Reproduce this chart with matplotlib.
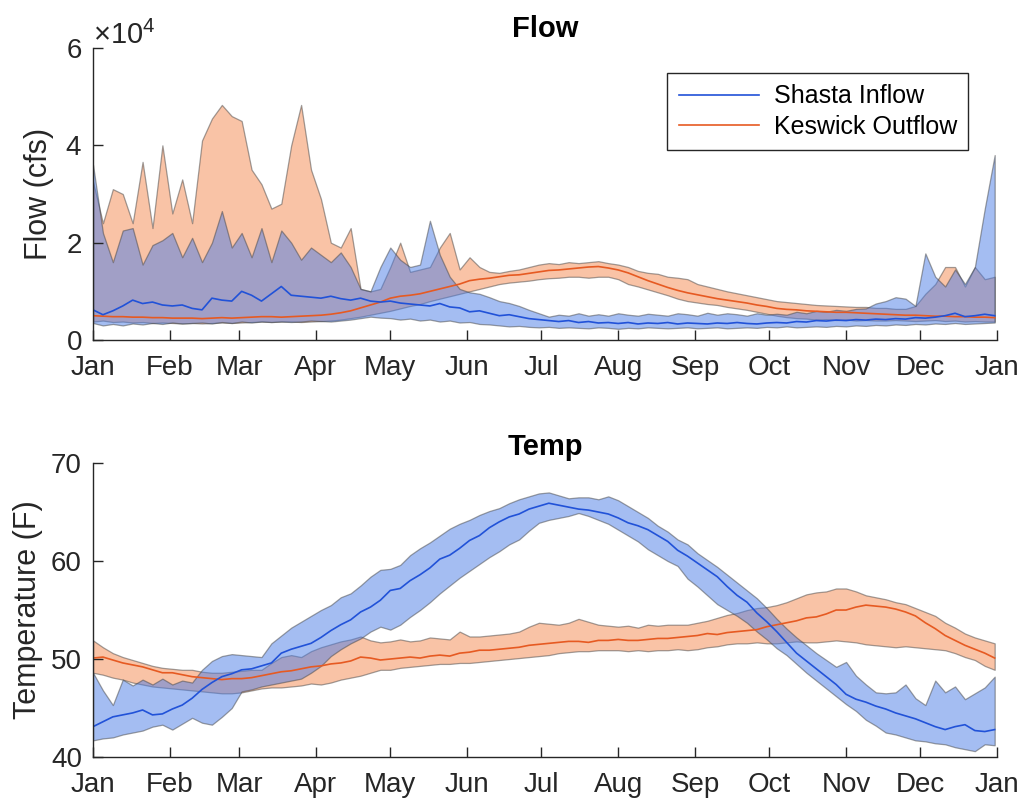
import matplotlib
matplotlib.use("Agg")
import matplotlib.pyplot as plt
import numpy as np

plt.rcParams["font.family"] = ["Liberation Sans", "DejaVu Sans"]
plt.rcParams["mathtext.fontset"] = "custom"
plt.rcParams["mathtext.rm"] = "Liberation Sans"

# ── axis labels ─────────────────────────────────────────
MONTH_STARTS = [0, 31, 59, 90, 120, 151, 181, 212, 243, 273, 304, 334, 365]
MONTH_LABELS = ["Jan", "Feb", "Mar", "Apr", "May", "Jun",
                "Jul", "Aug", "Sep", "Oct", "Nov", "Dec", "Jan"]

# sample days (every 4th day of the year)
DAYS = np.arange(0, 365, 4)

# ── Flow (units of 1e4 cfs) ─────────────────────────────
inflow_mid = [0.62, 0.52, 0.60, 0.70, 0.82, 0.75, 0.78, 0.72, 0.70, 0.72,
              0.65, 0.62, 0.86, 0.82, 0.80, 1.00, 0.92, 0.80, 0.95, 1.10,
              0.92, 0.90, 0.88, 0.86, 0.90, 0.85, 0.82, 0.86, 0.80, 0.78,
              0.80, 0.76, 0.74, 0.72, 0.70, 0.75, 0.68, 0.66, 0.58, 0.60,
              0.55, 0.50, 0.52, 0.48, 0.44, 0.42, 0.40, 0.38, 0.40, 0.36,
              0.38, 0.35, 0.36, 0.34, 0.36, 0.33, 0.35, 0.34, 0.36, 0.33,
              0.35, 0.34, 0.33, 0.35, 0.34, 0.36, 0.34, 0.33, 0.35, 0.36,
              0.35, 0.38, 0.37, 0.40, 0.39, 0.41, 0.40, 0.42, 0.41, 0.43,
              0.42, 0.44, 0.43, 0.46, 0.45, 0.47, 0.50, 0.55, 0.48, 0.50,
              0.53, 0.50]
inflow_hi = [3.60, 2.20, 1.60, 2.25, 2.30, 1.55, 1.95, 2.05, 2.20, 1.70,
             2.10, 1.60, 2.00, 2.65, 1.90, 2.20, 1.70, 2.30, 1.60, 2.25,
             2.00, 1.65, 1.90, 1.75, 1.60, 1.80, 1.50, 1.05, 1.00, 1.50,
             1.90, 1.65, 1.50, 1.55, 2.45, 1.75, 1.30, 1.05, 0.98, 0.95,
             0.88, 0.80, 0.76, 0.70, 0.62, 0.55, 0.48, 0.52, 0.50, 0.55,
             0.50, 0.53, 0.50, 0.55, 0.52, 0.50, 0.54, 0.52, 0.50, 0.55,
             0.53, 0.50, 0.56, 0.52, 0.55, 0.53, 0.50, 0.55, 0.52, 0.54,
             0.52, 0.58, 0.55, 0.60, 0.58, 0.62, 0.60, 0.64, 0.65, 0.75,
             0.80, 0.88, 0.85, 0.70, 1.78, 1.30, 1.10, 1.45, 1.15, 1.50,
             2.70, 3.80]
inflow_lo = [0.35, 0.30, 0.33, 0.30, 0.34, 0.32, 0.35, 0.33, 0.36, 0.34,
             0.35, 0.36, 0.34, 0.37, 0.35, 0.38, 0.36, 0.38, 0.37, 0.38,
             0.37, 0.38, 0.40, 0.39, 0.38, 0.40, 0.42, 0.45, 0.48, 0.46,
             0.45, 0.42, 0.44, 0.40, 0.42, 0.38, 0.40, 0.36, 0.37, 0.33,
             0.32, 0.30, 0.28, 0.29, 0.27, 0.26, 0.27, 0.25, 0.26, 0.25,
             0.24, 0.26, 0.25, 0.23, 0.25, 0.24, 0.26, 0.25, 0.24, 0.25,
             0.26, 0.24, 0.25, 0.26, 0.24, 0.25, 0.26, 0.25, 0.27, 0.26,
             0.28, 0.26, 0.27, 0.28, 0.27, 0.29, 0.28, 0.30, 0.29, 0.31,
             0.30, 0.32, 0.31, 0.33, 0.32, 0.34, 0.33, 0.35, 0.33, 0.34,
             0.35, 0.36]

outflow_mid = [0.50, 0.49, 0.48, 0.48, 0.47, 0.47, 0.46, 0.46, 0.45, 0.45,
               0.45, 0.44, 0.45, 0.46, 0.45, 0.46, 0.47, 0.48, 0.48, 0.47,
               0.48, 0.49, 0.50, 0.51, 0.53, 0.56, 0.60, 0.66, 0.72, 0.78,
               0.86, 0.90, 0.92, 0.95, 1.00, 1.05, 1.10, 1.15, 1.22, 1.25,
               1.27, 1.30, 1.33, 1.34, 1.37, 1.40, 1.43, 1.44, 1.46, 1.48,
               1.50, 1.51, 1.48, 1.44, 1.38, 1.30, 1.22, 1.15, 1.08, 1.02,
               0.97, 0.93, 0.89, 0.85, 0.82, 0.79, 0.76, 0.72, 0.69, 0.65,
               0.63, 0.62, 0.60, 0.59, 0.58, 0.57, 0.57, 0.56, 0.55, 0.54,
               0.53, 0.52, 0.51, 0.51, 0.50, 0.49, 0.49, 0.48, 0.48, 0.47,
               0.47, 0.46]
outflow_hi = [3.25, 2.40, 3.10, 3.00, 2.40, 3.66, 2.30, 4.00, 2.60, 3.30,
              2.40, 4.10, 4.55, 4.83, 4.60, 4.50, 3.50, 3.20, 2.70, 2.80,
              4.00, 4.83, 3.50, 2.90, 2.00, 1.90, 2.30, 1.05, 1.00, 1.05,
              1.50, 2.00, 1.40, 1.45, 1.50, 1.90, 2.20, 1.45, 1.70, 1.50,
              1.40, 1.38, 1.42, 1.45, 1.50, 1.55, 1.58, 1.56, 1.60, 1.58,
              1.60, 1.62, 1.58, 1.55, 1.50, 1.42, 1.38, 1.36, 1.30, 1.28,
              1.25, 1.15, 1.10, 1.05, 1.00, 0.96, 0.92, 0.88, 0.84, 0.80,
              0.78, 0.76, 0.74, 0.72, 0.71, 0.70, 0.69, 0.68, 0.68, 0.66,
              0.66, 0.64, 0.64, 0.70, 0.95, 1.15, 1.50, 1.50, 1.10, 1.50,
              1.25, 1.30]
outflow_lo = [0.38, 0.40, 0.37, 0.38, 0.36, 0.37, 0.35, 0.36, 0.35, 0.34,
              0.35, 0.34, 0.35, 0.36, 0.35, 0.36, 0.37, 0.38, 0.37, 0.38,
              0.38, 0.37, 0.38, 0.39, 0.40, 0.42, 0.45, 0.48, 0.52, 0.56,
              0.60, 0.65, 0.70, 0.74, 0.80, 0.85, 0.90, 0.95, 1.00, 1.05,
              1.10, 1.15, 1.18, 1.20, 1.22, 1.25, 1.27, 1.28, 1.30, 1.30,
              1.28, 1.30, 1.30, 1.25, 1.15, 1.10, 1.04, 0.98, 0.92, 0.85,
              0.80, 0.77, 0.74, 0.72, 0.68, 0.65, 0.62, 0.58, 0.54, 0.50,
              0.47, 0.45, 0.44, 0.42, 0.43, 0.41, 0.42, 0.40, 0.41, 0.40,
              0.40, 0.41, 0.40, 0.39, 0.40, 0.41, 0.39, 0.40, 0.38, 0.39,
              0.38, 0.38]

# ── Temperature (F) ─────────────────────────────────────
tin_mid = [43.1, 43.6, 44.1, 44.3, 44.5, 44.8, 44.3, 44.4, 44.9, 45.3,
           46.0, 46.9, 47.6, 48.2, 48.5, 48.9, 49.0, 49.3, 49.6, 50.6,
           51.0, 51.3, 51.6, 52.2, 52.9, 53.5, 54.0, 54.8, 55.3, 56.0,
           57.0, 57.2, 58.0, 58.6, 59.3, 60.2, 60.6, 61.3, 62.1, 62.6,
           63.4, 64.0, 64.5, 64.8, 65.3, 65.6, 65.9, 65.7, 65.5, 65.3,
           65.2, 65.0, 64.8, 64.4, 63.9, 63.6, 63.2, 62.6, 62.0, 61.1,
           60.5, 59.8, 59.1, 58.4, 57.4, 56.5, 55.8, 54.7, 53.8, 52.8,
           51.7, 50.6, 49.8, 49.0, 48.2, 47.4, 46.4, 45.9, 45.6, 45.2,
           44.9, 44.5, 44.2, 43.9, 43.5, 43.1, 42.8, 43.1, 43.3, 42.7,
           42.6, 42.8]
tin_hi = [48.6, 46.8, 45.3, 47.9, 47.3, 47.9, 47.4, 48.0, 47.4, 47.8,
          47.6, 48.9, 49.8, 50.3, 50.5, 50.4, 50.3, 50.2, 51.6, 52.4,
          53.2, 53.8, 54.4, 55.0, 55.5, 56.3, 56.7, 57.5, 58.4, 59.1,
          59.2, 59.6, 60.6, 61.3, 61.9, 62.6, 63.3, 63.8, 64.2, 64.7,
          65.1, 65.4, 65.9, 66.3, 66.6, 66.9, 67.0, 66.7, 66.4, 66.5,
          66.5, 66.3, 66.6, 66.2, 65.6, 65.0, 64.4, 63.6, 63.0, 62.2,
          61.7, 60.8, 60.1, 59.4, 58.6, 57.8, 57.0, 56.2, 55.2, 54.1,
          53.1, 52.2, 51.4, 50.6, 49.9, 49.2, 49.7, 48.3, 47.4, 46.6,
          46.5, 46.6, 47.4, 46.0, 45.3, 47.8, 46.6, 47.2, 45.9, 46.5,
          47.1, 48.2]
tin_lo = [41.7, 41.9, 42.0, 42.3, 42.5, 42.7, 43.1, 43.3, 42.8, 43.4,
          44.0, 43.5, 43.3, 44.1, 45.0, 46.7, 46.9, 47.2, 47.4, 47.6,
          47.8, 48.0, 48.6, 49.3, 50.3, 51.0, 51.6, 52.1, 52.8, 53.3,
          53.0, 53.5, 54.3, 55.0, 55.8, 56.7, 57.5, 58.3, 59.0, 59.7,
          60.4, 61.0, 61.7, 62.2, 63.1, 63.9, 64.2, 64.4, 64.6, 64.9,
          64.6, 64.2, 63.8, 63.2, 62.6, 62.0, 61.2, 60.6, 60.0, 59.5,
          58.2, 57.4, 56.5, 55.6, 55.0, 54.4, 53.7, 52.8, 52.0, 51.1,
          50.4, 49.5, 48.6, 47.8, 47.0, 46.2, 45.4, 44.7, 43.8, 43.2,
          42.5, 42.3, 42.0, 41.7, 41.6, 41.4, 41.3, 41.0, 40.8, 40.6,
          41.3, 41.2]

tout_mid = [50.1, 50.2, 49.9, 49.6, 49.4, 49.2, 48.9, 48.6, 48.6, 48.4,
            48.2, 48.1, 48.0, 47.9, 48.0, 48.0, 48.1, 48.3, 48.5, 48.7,
            48.8, 49.0, 49.2, 49.3, 49.5, 49.6, 49.8, 50.2, 50.1, 49.9,
            50.0, 50.1, 50.2, 50.1, 50.3, 50.4, 50.3, 50.6, 50.7, 50.9,
            50.9, 51.0, 51.1, 51.2, 51.4, 51.5, 51.6, 51.7, 51.8, 51.8,
            51.7, 51.9, 51.9, 52.0, 51.9, 51.9, 52.0, 52.1, 52.1, 52.2,
            52.3, 52.4, 52.6, 52.5, 52.7, 52.8, 52.9, 53.0, 53.3, 53.5,
            53.7, 53.9, 54.2, 54.3, 54.6, 55.0, 55.0, 55.3, 55.5, 55.4,
            55.3, 55.1, 54.8, 54.4, 53.7, 53.1, 52.4, 51.9, 51.4, 51.0,
            50.6, 50.1]
tout_hi = [51.9, 51.2, 50.6, 50.2, 49.9, 49.6, 49.3, 49.1, 49.0, 48.9,
           48.9, 48.7, 48.6, 48.6, 48.7, 48.8, 48.9, 48.9, 49.6, 50.2,
           50.4, 50.2, 50.8, 51.2, 51.5, 51.8, 52.0, 52.3, 51.9, 51.7,
           51.8, 52.0, 51.8, 51.9, 52.2, 52.1, 52.0, 52.8, 52.3, 52.3,
           52.4, 52.5, 52.6, 52.8, 53.3, 53.7, 53.6, 53.5, 53.7, 54.1,
           53.8, 53.5, 53.4, 53.3, 53.4, 53.2, 53.5, 53.4, 53.5, 53.5,
           53.5, 53.7, 53.9, 54.2, 54.5, 54.7, 55.0, 55.2, 55.3, 55.5,
           55.8, 56.2, 56.6, 56.8, 56.9, 57.2, 57.2, 56.9, 56.5, 56.3,
           56.1, 55.8, 55.6, 55.2, 54.8, 54.4, 53.7, 53.2, 52.6, 52.2,
           51.9, 51.6]
tout_lo = [48.6, 48.4, 48.1, 47.9, 47.6, 47.4, 47.2, 47.1, 47.0, 46.9,
           46.8, 46.7, 46.6, 46.5, 46.5, 46.6, 46.8, 47.0, 47.1, 47.1,
           47.2, 47.3, 47.5, 47.4, 47.6, 47.9, 48.1, 48.3, 48.6, 48.9,
           48.9, 49.1, 49.2, 49.3, 49.4, 49.5, 49.5, 49.6, 49.6, 49.7,
           49.8, 49.9, 50.0, 50.1, 50.2, 50.3, 50.4, 50.6, 50.7, 50.8,
           50.8, 50.9, 50.9, 50.9, 50.8, 50.9, 50.8, 50.9, 50.9, 51.0,
           50.9, 51.0, 51.2, 51.3, 51.5, 51.6, 51.6, 51.7, 51.6, 51.6,
           51.7, 51.8, 51.7, 51.7, 51.8, 51.9, 51.8, 51.7, 51.5, 51.4,
           51.3, 51.2, 51.3, 51.2, 51.1, 51.0, 50.9, 50.6, 50.2, 49.9,
           49.3, 48.9]

BLUE_FILL = "#4a7de6"
ORANGE_FILL = "#f5884f"
BLUE_LINE = "#2152d8"
ORANGE_LINE = "#e65a22"
AX_COLOR = "#262626"


def draw_bands(ax, scale, in_lo, in_mid, in_hi, out_lo, out_mid, out_hi):
    s = np.asarray
    ax.fill_between(DAYS, s(out_lo) * scale, s(out_hi) * scale,
                    facecolor=ORANGE_FILL, edgecolor="#454545",
                    alpha=0.5, linewidth=0.9)
    h_out, = ax.plot(DAYS, s(out_mid) * scale, color=ORANGE_LINE, lw=1.2)
    ax.fill_between(DAYS, s(in_lo) * scale, s(in_hi) * scale,
                    facecolor=BLUE_FILL, edgecolor="#454545",
                    alpha=0.5, linewidth=0.9)
    h_in, = ax.plot(DAYS, s(in_mid) * scale, color=BLUE_LINE, lw=1.2)
    return h_in, h_out


def style_axis(ax):
    for side in ("top", "right"):
        ax.spines[side].set_visible(False)
    for side in ("left", "bottom"):
        ax.spines[side].set_color(AX_COLOR)
        ax.spines[side].set_linewidth(1.0)
    ax.set_xlim(0, 365)
    ax.set_xticks(MONTH_STARTS)
    ax.set_xticklabels(MONTH_LABELS)
    ax.tick_params(direction="in", length=7, width=1.0, colors=AX_COLOR,
                   labelsize=20)
    ax.tick_params(axis="x", pad=11)
    ax.tick_params(axis="y", pad=8)


fig = plt.figure(figsize=(10.28, 8.05), dpi=100)
ax1 = fig.add_axes([0.0905, 0.5776, 0.8795, 0.3628])
ax2 = fig.add_axes([0.0905, 0.0596, 0.8795, 0.3652])

# ── Flow ────────────────────────────────────────────────
h_in, h_out = draw_bands(ax1, 1e4, inflow_lo, inflow_mid, inflow_hi,
                         outflow_lo, outflow_mid, outflow_hi)
style_axis(ax1)
ax1.set_ylim(0, 6e4)
ax1.set_yticks([0, 2e4, 4e4, 6e4])
ax1.ticklabel_format(axis="y", style="sci", scilimits=(0, 0), useMathText=True)
ax1.yaxis.get_offset_text().set_fontsize(21)
ax1.yaxis.get_offset_text().set_color(AX_COLOR)
ax1.set_ylabel("Flow (cfs)", fontsize=22, color=AX_COLOR, labelpad=8)
ax1.set_title("Flow", fontsize=21, fontweight="bold", pad=8)
leg = ax1.legend([h_in, h_out], ["Shasta Inflow", "Keswick Outflow"],
                 loc="upper right", bbox_to_anchor=(0.968, 0.914),
                 borderaxespad=0, fontsize=18, handlelength=3.2,
                 fancybox=False, framealpha=1, borderpad=0.45,
                 labelspacing=0.25, handletextpad=0.6)
leg.get_frame().set_edgecolor(AX_COLOR)
leg.get_frame().set_linewidth(1.0)

# ── Temp ────────────────────────────────────────────────
draw_bands(ax2, 1.0, tin_lo, tin_mid, tin_hi, tout_lo, tout_mid, tout_hi)
style_axis(ax2)
ax2.set_ylim(40, 70)
ax2.set_yticks([40, 50, 60, 70])
ax2.set_ylabel("Temperature (F)", fontsize=22, color=AX_COLOR, labelpad=6)
ax2.set_title("Temp", fontsize=21, fontweight="bold", pad=6)

fig.savefig("out.png", dpi=100)
